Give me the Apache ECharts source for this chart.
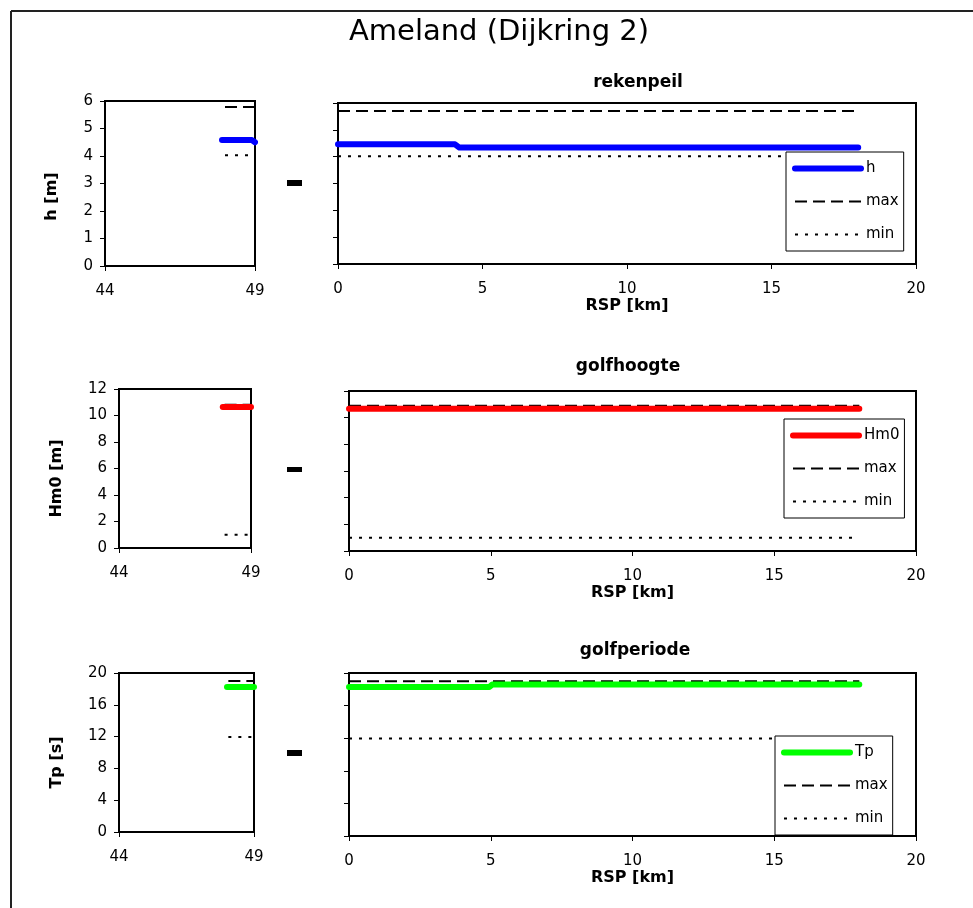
<!DOCTYPE html>
<html><head><meta charset="utf-8">
<script src="https://cdn.jsdelivr.net/npm/echarts@6/dist/echarts.min.js"></script>
<style>html,body{margin:0;padding:0;background:#fff}#c{width:973px;height:908px}</style>
</head><body><div id="c"></div>
<script>
// ================= DATA =================
const chartTitle = 'Ameland (Dijkring 2)';
const panelTitles = ['rekenpeil', 'golfhoogte', 'golfperiode'];
const yAxisNames = ['h [m]', 'Hm0 [m]', 'Tp [s]'];
const xAxisName = 'RSP [km]';
const mainNames = ['h', 'Hm0', 'Tp'];
const maxName = 'max';
const minName = 'min';

// axis ranges / tick steps
const leftXRange = [44, 49];  const leftXStep = 5;
const rightXRange = [0, 20];  const rightXStep = 5;
const yMaxes = [6, 12, 20];
const ySteps = [1, 2, 4];

// --- rekenpeil (h) ---
const hLeftX = [47.9, 48.9, 49];      const hLeftY = [4.58, 4.58, 4.5];
const hLeftMaxX = [48, 49];           const hLeftMaxY = [5.78, 5.78];
const hLeftMinX = [48, 48.85];        const hLeftMinY = [4.03, 4.03];
const hX = [0, 4.05, 4.2, 18];        const hY = [4.46, 4.46, 4.34, 4.34];
const hMaxX = [0, 18];                const hMaxY = [5.70, 5.70];
const hMinX = [0, 18];                const hMinY = [4.02, 4.02];

// --- golfhoogte (Hm0) ---
const hm0LeftX = [47.93, 49];         const hm0LeftY = [10.64, 10.64];
const hm0LeftMaxX = [48, 49];         const hm0LeftMaxY = [10.82, 10.82];
const hm0LeftMinX = [48, 48.94];      const hm0LeftMinY = [1.0, 1.0];
const hm0X = [0, 18];                 const hm0Y = [10.67, 10.67];
const hm0MaxX = [0, 18];              const hm0MaxY = [10.9, 10.9];
const hm0MinX = [0, 17.9];            const hm0MinY = [1.0, 1.0];

// --- golfperiode (Tp) ---
const tpLeftX = [48, 49];             const tpLeftY = [18.25, 18.25];
const tpLeftMaxX = [48.05, 49];       const tpLeftMaxY = [19.0, 19.0];
const tpLeftMinX = [48.05, 48.97];    const tpLeftMinY = [11.95, 11.95];
const tpX = [0, 4.95, 5.05, 18];      const tpY = [18.29, 18.29, 18.58, 18.58];
const tpMaxX = [0, 18];               const tpMaxY = [18.98, 18.98];
const tpMinX = [0, 18];               const tpMinY = [11.97, 11.97];

// ================= BUILD =================
const zip = (xs, ys) => xs.map((x, i) => [x, ys[i]]);
const FONT = 'DejaVu Sans';

const panelData = [
  { main: [zip(hLeftX, hLeftY), zip(hX, hY)], max: [zip(hLeftMaxX, hLeftMaxY), zip(hMaxX, hMaxY)], min: [zip(hLeftMinX, hLeftMinY), zip(hMinX, hMinY)] },
  { main: [zip(hm0LeftX, hm0LeftY), zip(hm0X, hm0Y)], max: [zip(hm0LeftMaxX, hm0LeftMaxY), zip(hm0MaxX, hm0MaxY)], min: [zip(hm0LeftMinX, hm0LeftMinY), zip(hm0MinX, hm0MinY)] },
  { main: [zip(tpLeftX, tpLeftY), zip(tpX, tpY)], max: [zip(tpLeftMaxX, tpLeftMaxY), zip(tpMaxX, tpMaxY)], min: [zip(tpLeftMinX, tpLeftMinY), zip(tpMinX, tpMinY)] }
];

// layout (pixels)
const layout = [
  { left: {l:105, t:101, w:150, h:165}, right: {l:338, t:103, w:578, h:161}, color:'#0000ff',
    nameGap:45, nameOff:13, title:{x:638, y:83}, legend:{l:786, t:152}, mark:{x:287, y:180, h:6} },
  { left: {l:119, t:389, w:132, h:159}, right: {l:349, t:391, w:567, h:160}, color:'#ff0000',
    nameGap:54, nameOff:10, title:{x:628, y:367}, legend:{l:784, t:419}, mark:{x:287, y:467, h:5} },
  { left: {l:119, t:673, w:135, h:159}, right: {l:349, t:673, w:567, h:163}, color:'#00ff00',
    nameGap:54, nameOff:10, title:{x:635, y:651}, legend:{l:775, t:736}, mark:{x:287, y:750, h:6} }
];

const grids = [], xAxes = [], yAxes = [], series = [], legends = [], graphics = [];
const axisLineStyle = { show: true, onZero: false, lineStyle: { color: '#000', width: 2 } };
const tickStyle = { show: true, inside: false, length: 5, lineStyle: { color: '#000', width: 1 } };
const labelStyle = { color: '#000', fontFamily: FONT, fontSize: 15 };

layout.forEach((L, p) => {
  ['left', 'right'].forEach((side, s) => {
    const g = L[side];
    const gi = grids.length;
    grids.push({ left: g.l, top: g.t, width: g.w, height: g.h, show: true, borderColor: '#000', borderWidth: 2,
                 backgroundColor: 'transparent', containLabel: false, outerBoundsMode: 'none' });
    const isLeft = s === 0;
    xAxes.push({
      type: 'value', gridIndex: gi,
      min: isLeft ? leftXRange[0] : rightXRange[0], max: isLeft ? leftXRange[1] : rightXRange[1],
      interval: isLeft ? leftXStep : rightXStep,
      axisLine: axisLineStyle, axisTick: tickStyle, splitLine: { show: false },
      axisLabel: Object.assign({ margin: 18, showMinLabel: true, showMaxLabel: true }, labelStyle),
      name: isLeft ? '' : xAxisName, nameLocation: 'middle', nameGap: 32,
      nameTextStyle: { color: '#000', fontFamily: FONT, fontSize: 16, fontWeight: 'bold' }
    });
    yAxes.push({
      type: 'value', gridIndex: gi, min: 0, max: yMaxes[p], interval: ySteps[p],
      axisLine: axisLineStyle, axisTick: tickStyle, splitLine: { show: false },
      axisLabel: Object.assign({ show: isLeft, margin: 12 }, labelStyle),
      name: isLeft ? yAxisNames[p] : '', nameLocation: 'middle', nameGap: L.nameGap,
      nameTextStyle: { color: '#000', fontFamily: FONT, fontSize: 16, fontWeight: 'bold', padding: [0, 2 * L.nameOff, 0, 0] }
    });
    const common = { type: 'line', xAxisIndex: gi, yAxisIndex: gi, symbol: 'none', clip: false, silent: true, animation: false };
    series.push(Object.assign({}, common, { name: maxName, data: panelData[p].max[s], z: 2,
      lineStyle: { color: '#000', width: 2, type: [12, 6] }, itemStyle: { color: '#000' } }));
    series.push(Object.assign({}, common, { name: minName, data: panelData[p].min[s], z: 2,
      lineStyle: { color: '#000', width: 2, type: [3, 7] }, itemStyle: { color: '#000' } }));
    series.push(Object.assign({}, common, { name: mainNames[p], data: panelData[p].main[s], z: 3,
      lineStyle: { color: L.color, width: 6, cap: 'round', join: 'round' }, itemStyle: { color: L.color } }));
  });
  legends.push({
    orient: 'vertical', left: L.legend.l, top: L.legend.t, padding: [9, 5, 9, 6],
    backgroundColor: '#fff', borderColor: '#000', borderWidth: 1, borderRadius: 0,
    itemWidth: 66, itemHeight: 16, itemGap: 18, selectedMode: false,
    data: [mainNames[p], maxName, minName],
    textStyle: { color: '#000', fontFamily: FONT, fontSize: 15 },
    lineStyle: { width: 'inherit' }, itemStyle: { opacity: 0 }, z: 10
  });
  graphics.push({ type: 'text', x: L.title.x, y: L.title.y, z: 20,
    style: { text: panelTitles[p], fontFamily: FONT, fontSize: 17, fontWeight: 'bold', fill: '#000', align: 'center', verticalAlign: 'middle' } });
  graphics.push({ type: 'rect', shape: { x: L.mark.x, y: L.mark.y, width: 15, height: L.mark.h }, style: { fill: '#000' }, z: 20 });
});

graphics.push({ type: 'text', x: 499, y: 32, z: 20,
  style: { text: chartTitle, fontFamily: FONT, fontSize: 29, fill: '#000', align: 'center', verticalAlign: 'middle' } });
graphics.push({ type: 'line', shape: { x1: 11, y1: 11, x2: 973, y2: 11 }, style: { stroke: '#222', lineWidth: 2 }, z: 20 });
graphics.push({ type: 'line', shape: { x1: 11, y1: 11, x2: 11, y2: 908 }, style: { stroke: '#222', lineWidth: 2 }, z: 20 });

const chart = echarts.init(document.getElementById('c'), null, { renderer: 'canvas' });
chart.setOption({
  backgroundColor: '#fff',
  animation: false,
  grid: grids, xAxis: xAxes, yAxis: yAxes, series: series, legend: legends, graphic: graphics,
  tooltip: { show: false }
});
</script></body></html>
